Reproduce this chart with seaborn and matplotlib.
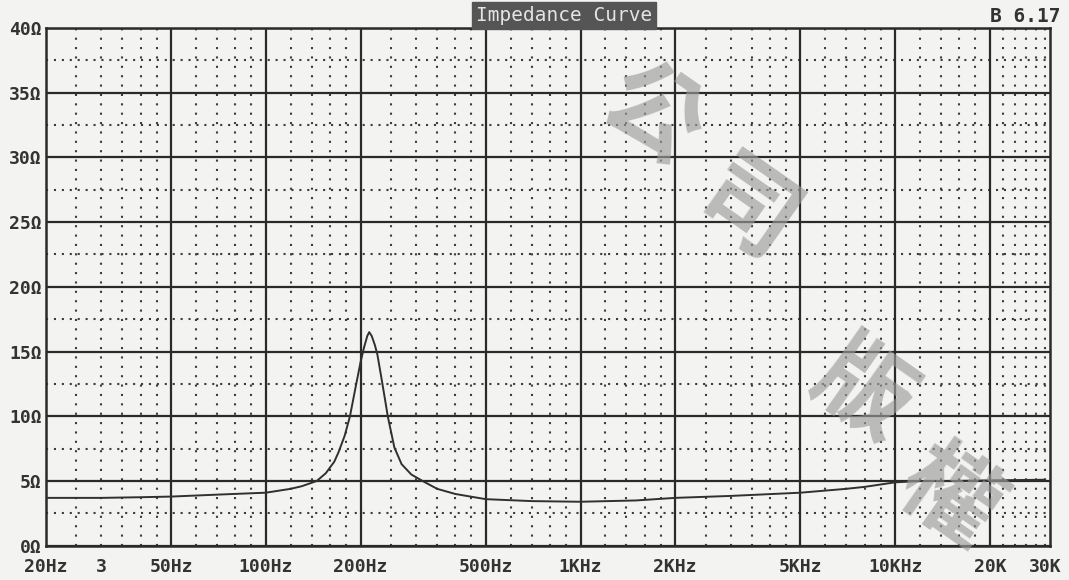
import numpy as np
import pandas as pd
import matplotlib
matplotlib.use("Agg")
import matplotlib.pyplot as plt
import seaborn as sns

# =====================================================
# DATA
# =====================================================

freq_hz = [20, 30, 40, 50, 70, 100, 120, 130, 145, 155, 165, 170, 178, 185,
           193, 200, 205, 210, 213, 217, 222, 226, 232, 238, 244, 256, 270,
           290, 315, 350, 400, 500, 700, 1000, 1500, 2000, 3000, 5000, 7000,
           8000, 10000, 12000, 15000, 20000, 30000]
impedance_ohm = [3.7, 3.7, 3.75, 3.8, 3.95, 4.1, 4.4, 4.6, 5.0, 5.6, 6.5, 7.2,
                 8.5, 10.0, 12.3, 14.2, 15.3, 16.2, 16.5, 16.2, 15.5, 14.8,
                 13.2, 11.6, 10.0, 7.6, 6.3, 5.5, 5.0, 4.4, 4.0, 3.6, 3.45,
                 3.4, 3.5, 3.7, 3.85, 4.1, 4.4, 4.55, 4.9, 5.0, 5.0, 5.05, 5.1]

x_label_pos = [20, 30, 50, 100, 200, 500, 1000, 2000, 5000, 10000, 20000, 30000]
x_labels = ["20Hz", "3", "50Hz", "100Hz", "200Hz", "500Hz", "1KHz", "2KHz",
            "5KHz", "10KHz", "20K", "30K"]
x_major = [50, 100, 200, 500, 1000, 2000, 5000, 10000, 20000]
x_minor = [25, 30, 35, 40, 45, 60, 70, 80, 90, 120, 140, 160, 180,
           250, 300, 350, 400, 450, 600, 700, 800, 900,
           1200, 1400, 1600, 1800, 2500, 3000, 3500, 4000, 4500,
           6000, 7000, 8000, 9000, 12000, 14000, 16000, 18000,
           22000, 24000, 26000, 28000, 30000]
y_major = [0, 5, 10, 15, 20, 25, 30, 35, 40]
y_minor = [2.5, 7.5, 12.5, 17.5, 22.5, 27.5, 32.5, 37.5]
y_labels = ["0Ω", "5Ω", "10Ω", "15Ω", "20Ω", "25Ω", "30Ω", "35Ω", "40Ω"]

watermark = ["公", "司", "版", "權"]

df = pd.DataFrame({"freq": freq_hz, "z": impedance_ohm})

# =====================================================
# PLOT
# =====================================================

sns.set_style("white")
plt.rcParams["font.family"] = ["DejaVu Sans Mono", "DejaVu Sans"]

paper = "#f3f3f1"
ink = "#2a2a2a"

fig = plt.figure(figsize=(10.69, 5.80), dpi=100, facecolor=paper)
ax = fig.add_axes([0.043, 0.059, 0.939, 0.893])
ax.set_facecolor(paper)

ax.set_xscale("log")
ax.set_xlim(20, 31000)
ax.set_ylim(0, 40)

# grid
for xv in x_minor:
    ax.axvline(xv, color="#3c3c3c", lw=1.5, ls=(0, (1, 3.5)), zorder=1)
for yv in y_minor:
    ax.axhline(yv, color="#3c3c3c", lw=1.5, ls=(0, (1, 2.8)), zorder=1)
for xv in x_major:
    ax.axvline(xv, color=ink, lw=1.6, zorder=2)
for yv in y_major:
    ax.axhline(yv, color=ink, lw=1.6, zorder=2)

sns.lineplot(data=df, x="freq", y="z", ax=ax, color="#303030", lw=1.4,
             zorder=4)

ax.set_xticks(x_label_pos)
ax.set_xticklabels(x_labels)
ax.xaxis.set_minor_locator(matplotlib.ticker.NullLocator())
ax.set_yticks(y_major)
ax.set_yticklabels(y_labels)
ax.tick_params(length=0, labelsize=13, labelcolor="#333333")
ax.tick_params(axis="x", pad=9)
ax.tick_params(axis="y", pad=3)
for lbl in ax.get_xticklabels() + ax.get_yticklabels():
    lbl.set_fontweight("bold")
ax.set_xlabel("")
ax.set_ylabel("")

for side in ax.spines.values():
    side.set_color(ink)
    side.set_linewidth(1.8)

# watermark
wm_pos = [(0.61, 0.80), (0.698, 0.633), (0.807, 0.324), (0.888, 0.14)]
for ch, (wx, wy) in zip(watermark, wm_pos):
    fig.text(wx, wy, ch, fontsize=70, color="#9c9c9c", alpha=0.65,
             rotation=-35, ha="center", va="center", zorder=10,
             family=["Noto Sans CJK TC", "Noto Sans CJK SC"],
             fontweight="bold")

# header
fig.text(0.528, 0.973, "Impedance Curve", fontsize=14, color="#e4e4e4",
         ha="center", va="center",
         bbox=dict(boxstyle="square,pad=0.2", fc="#555555", ec="#555555"))
fig.text(0.992, 0.972, "B 6.17", fontsize=14, color="#333333",
         ha="right", va="center", fontweight="bold")

plt.savefig("out.png", dpi=100, facecolor=paper)
